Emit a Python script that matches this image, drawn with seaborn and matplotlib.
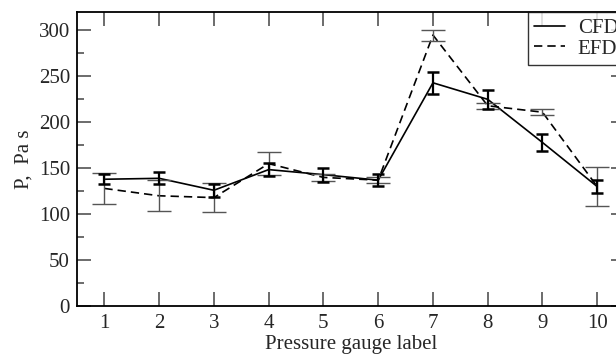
import numpy as np
import pandas as pd
import seaborn as sns
import matplotlib.pyplot as plt
from matplotlib.ticker import MultipleLocator

gauges = [1, 2, 3, 4, 5, 6, 7, 8, 9, 10]
cfd = [138, 139, 126, 148.5, 143, 137, 243, 225, 178, 130]
cfd_err = [5.5, 6.5, 7, 7, 7.5, 6.5, 12, 10, 9, 7]
efd = [128, 120, 118, 155, 140, 137, 295, 218, 211, 130]
efd_err = [17, 17, 15.5, 12.5, 4, 3.5, 6, 3, 3, 21]

sns.set_style('ticks')
plt.rcParams['font.family'] = ['Liberation Serif', 'DejaVu Serif']

df = pd.DataFrame({'gauge': gauges * 2,
                   'P': cfd + efd,
                   'source': ['CFD'] * 10 + ['EFD'] * 10})

fig = plt.figure(figsize=(6.16, 3.55), dpi=100)
ax = fig.add_axes([0.125, 0.138, 0.889, 0.828])

sns.lineplot(data=df, x='gauge', y='P', style='source',
             dashes={'CFD': '', 'EFD': (5, 3)}, color='black',
             linewidth=1.2, ax=ax)

# error bars: experiment wide & grey, simulation narrow & black
ax.errorbar(gauges, efd, yerr=efd_err, fmt='none', ecolor='#555555',
            elinewidth=1.0, capsize=8.5, capthick=1.0, zorder=3)
ax.errorbar(gauges, cfd, yerr=cfd_err, fmt='none', ecolor='black',
            elinewidth=1.6, capsize=4.5, capthick=1.8, zorder=4)

ax.set_xlim(0.5, 10.5)
ax.set_ylim(0, 320)
ax.set_xticks(gauges)
ax.yaxis.set_major_locator(MultipleLocator(50))
ax.yaxis.set_minor_locator(MultipleLocator(25))
ax.tick_params(which='both', direction='in', top=True, right=True,
               labelsize=15, color='#444444', pad=5)
ax.tick_params(axis='x', pad=6)
ax.tick_params(which='major', length=10, width=1.1)
ax.tick_params(which='minor', length=5, width=1.1)
for s in ax.spines.values():
    s.set_linewidth(1.3)
    s.set_color('black')

ax.set_xlabel('Pressure gauge label', fontsize=15, labelpad=1)
ax.set_ylabel('P,  Pa s', fontsize=15, labelpad=4)

leg = ax.legend(loc='upper right', bbox_to_anchor=(1.0, 1.0),
                borderaxespad=0, fontsize=15, frameon=True, fancybox=False,
                handlelength=1.5, handletextpad=0.6, labelspacing=0.05,
                borderpad=0.3, title=None)
leg.get_frame().set_edgecolor('black')
leg.get_frame().set_linewidth(1.0)

fig.savefig('out.png', dpi=100)
